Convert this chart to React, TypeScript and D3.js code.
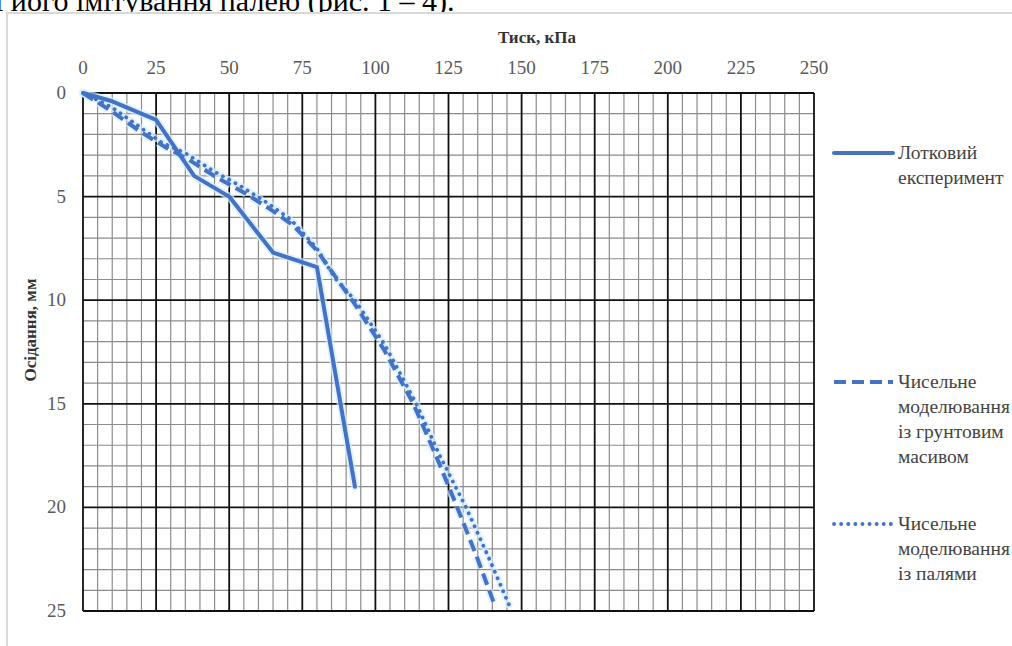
import React from 'react';
import * as d3 from 'd3';

// Тиск, кПа (x) / Осідання, мм (y)
const pressureTicks = [0, 25, 50, 75, 100, 125, 150, 175, 200, 225, 250];
const settlementTicks = [0, 5, 10, 15, 20, 25];

const trayPressure = [0, 10, 25, 38, 50, 65, 80, 93];
const traySettlement = [0, 0.4, 1.3, 4.0, 5.0, 7.7, 8.4, 19.0];

const soilPressure = [0, 10, 20, 28, 36, 46, 55, 64, 72, 80, 87, 93, 103, 113, 121, 128, 135, 141];
const soilSettlement = [0, 0.9, 1.9, 2.6, 3.2, 4.1, 4.8, 5.6, 6.4, 7.6, 9.0, 10.2, 12.4, 15.0, 17.6, 20.0, 22.5, 24.8];

const pilePressure = [0, 10, 20, 27, 35, 45, 54, 63, 71, 80, 86, 93, 103, 114, 122, 131, 139, 146];
const pileSettlement = [0, 0.7, 1.7, 2.4, 2.9, 3.8, 4.5, 5.3, 6.1, 7.5, 8.9, 10.0, 12.1, 15.0, 17.5, 20.0, 22.5, 24.8];

const legendLabels = [
  ['Лотковий', 'експеримент'],
  ['Чисельне', 'моделювання', 'із грунтовим', 'масивом'],
  ['Чисельне', 'моделювання', 'із палями'],
];

const W = 1012;
const H = 646;
const plot = { left: 83, right: 814, top: 93, bottom: 611 };
const blue = '#4472c4';
const serif = "'Times New Roman', 'Liberation Serif', serif";

export default function App() {
  const x = d3.scaleLinear().domain([0, 250]).range([plot.left, plot.right]);
  const y = d3.scaleLinear().domain([0, 25]).range([plot.top, plot.bottom]);

  const minorX = d3.range(0, 251, 5).filter((v) => v % 25 !== 0);
  const minorY = d3.range(0, 26, 1).filter((v) => v % 5 !== 0);

  const line = d3
    .line<[number, number]>()
    .x((d) => x(d[0]))
    .y((d) => y(d[1]));

  const tray = line(trayPressure.map((p, i) => [p, traySettlement[i]]) as [number, number][]);
  const soil = line(soilPressure.map((p, i) => [p, soilSettlement[i]]) as [number, number][]);
  const pile = line(pilePressure.map((p, i) => [p, pileSettlement[i]]) as [number, number][]);

  const series = [
    { d: tray, dash: undefined, cap: 'round', width: 4 },
    { d: soil, dash: '12 6', cap: 'butt', width: 4 },
    { d: pile, dash: '0.1 7', cap: 'round', width: 3.8 },
  ];
  const legendY = [153, 382, 524];

  return (
    <svg width={W} height={H} style={{ position: 'absolute', left: 0, top: 0, background: '#fff' }}>
      <text x={-5} y={11} fontFamily={serif} fontSize={30} fill="#000">
        ї його імітування палею (рис. 1 – 4).
      </text>
      <rect x={7} y={13} width={W + 20} height={H + 20} fill="#fff" stroke="#d9d9d9" strokeWidth={2} />

      {/* minor grid */}
      <g stroke="#8c8c8c" strokeWidth={1.2}>
        {minorX.map((v) => (
          <line key={'mx' + v} x1={x(v)} x2={x(v)} y1={plot.top} y2={plot.bottom} />
        ))}
        {minorY.map((v) => (
          <line key={'my' + v} x1={plot.left} x2={plot.right} y1={y(v)} y2={y(v)} />
        ))}
      </g>
      {/* major grid */}
      <g stroke="#111" strokeWidth={1.8}>
        {pressureTicks.map((v) => (
          <line key={'X' + v} x1={x(v)} x2={x(v)} y1={plot.top} y2={plot.bottom} />
        ))}
        {settlementTicks.map((v) => (
          <line key={'Y' + v} x1={plot.left} x2={plot.right} y1={y(v)} y2={y(v)} />
        ))}
      </g>

      {/* tick labels */}
      <g fontFamily={serif} fontSize={19} fill="#595959">
        {pressureTicks.map((v) => (
          <text key={'tx' + v} x={x(v)} y={74} textAnchor="middle">
            {v}
          </text>
        ))}
        {settlementTicks.map((v) => (
          <text key={'ty' + v} x={66} y={y(v) + 6} textAnchor="end">
            {v}
          </text>
        ))}
      </g>

      <text x={537} y={43} textAnchor="middle" fontFamily={serif} fontSize={17} fontWeight="bold" fill="#333">
        Тиск, кПа
      </text>
      <text
        transform={`translate(36, 330) rotate(-90)`}
        textAnchor="middle"
        fontFamily={serif}
        fontSize={17}
        fontWeight="bold"
        fill="#333"
      >
        Осідання, мм
      </text>

      {/* series */}
      <g>
        {series.map((s, i) => (
          <path
            key={'halo' + i}
            d={s.d || ''}
            fill="none"
            stroke="#d6ecff"
            strokeWidth={s.width + 4}
            strokeDasharray={s.dash}
            strokeLinecap={s.cap as any}
            strokeLinejoin="round"
            opacity={0.7}
          />
        ))}
        {series.map((s, i) => (
          <path
            key={'s' + i}
            d={s.d || ''}
            fill="none"
            stroke={blue}
            strokeWidth={s.width}
            strokeDasharray={s.dash}
            strokeLinecap={s.cap as any}
            strokeLinejoin="round"
          />
        ))}
      </g>

      {/* legend */}
      {series.map((s, i) => (
        <g key={'lg' + i}>
          <line
            x1={834}
            x2={893}
            y1={legendY[i]}
            y2={legendY[i]}
            stroke={blue}
            strokeWidth={s.width}
            strokeDasharray={s.dash}
            strokeLinecap={s.cap as any}
          />
          <text fontFamily={serif} fontSize={19.5} fill="#444">
            {legendLabels[i].map((t, j) => (
              <tspan key={j} x={898} y={legendY[i] + 6 + j * 25}>
                {t}
              </tspan>
            ))}
          </text>
        </g>
      ))}
    </svg>
  );
}
